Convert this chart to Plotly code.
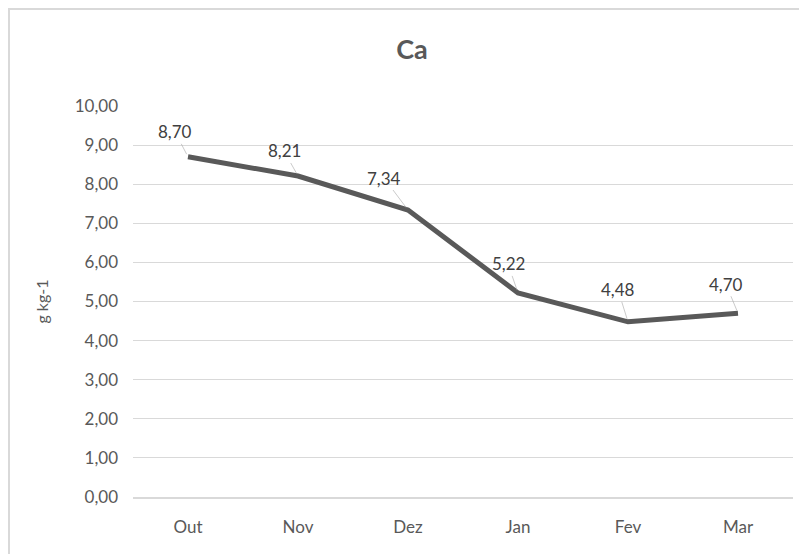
import plotly.graph_objects as go

categories = ["Out", "Nov", "Dez", "Jan", "Fev", "Mar"]
values = [8.70, 8.21, 7.34, 5.22, 4.48, 4.70]
y_ticks = [0, 1, 2, 3, 4, 5, 6, 7, 8, 9, 10]

# label offsets (pixels) of the data labels relative to their points
label_dx = [-13, -14, -24, -10, -10, -12]
label_dy = [-25, -25, -32, -29, -32, -29]

FONT = "Lato, Carlito, Calibri, sans-serif"
GREY = "#595959"

# the page body adds an 8px margin: layout below compensates for it
L, R, T, B = 125, 22, 98, 65
W, H = 807, 554
PW = W - L - R
PH = H - T - B

fig = go.Figure()
fig.add_trace(go.Scatter(
    x=categories, y=values, mode="lines",
    line=dict(color=GREY, width=5),
    hoverinfo="skip", showlegend=False,
))

for c, v, dx, dy in zip(categories, values, label_dx, label_dy):
    fig.add_annotation(
        x=c, y=v, text=f"{v:.2f}".replace(".", ","),
        showarrow=True, arrowhead=0, arrowwidth=0.6, arrowcolor="#a6a6a6",
        ax=dx, ay=dy, standoff=3,
        font=dict(family=FONT, size=17, color="#404040"),
    )

fig.add_shape(type="rect", xref="paper", yref="paper",
              x0=(1 - L) / PW, x1=(W + 20 - L) / PW,
              y0=(PH + T - (H + 20)) / PH, y1=(PH + T - 1) / PH,
              line=dict(color="#d9d9d9", width=2), fillcolor="rgba(0,0,0,0)", layer="below")

fig.update_layout(
    width=W, height=H,
    margin=dict(l=L, r=R, t=T, b=B),
    paper_bgcolor="white", plot_bgcolor="white",
    separators=",.",
    title=dict(text="<b>Ca</b>", x=(404 - L) / PW, xref="paper", xanchor="center",
               y=1 - 42 / H, yanchor="middle",
               font=dict(family=FONT, size=27, color=GREY)),
    font=dict(family=FONT, color=GREY),
    xaxis=dict(
        type="category", range=[-0.5, 5.5],
        showgrid=False, showline=True, linecolor="#d9d9d9", linewidth=2,
        ticks="", tickfont=dict(size=17, color=GREY), ticklabelstandoff=14,
    ),
    yaxis=dict(
        range=[0, 10], tickvals=y_ticks, tickformat=".2f",
        showgrid=True, gridcolor="#d9d9d9", gridwidth=1,
        zeroline=False, showline=False, ticks="",
        tickfont=dict(size=17, color=GREY), ticklabelstandoff=14,
        title=dict(text="g kg-1", font=dict(family=FONT, size=16, color=GREY),
                   standoff=22),
    ),
)

fig.write_html("out.html")
